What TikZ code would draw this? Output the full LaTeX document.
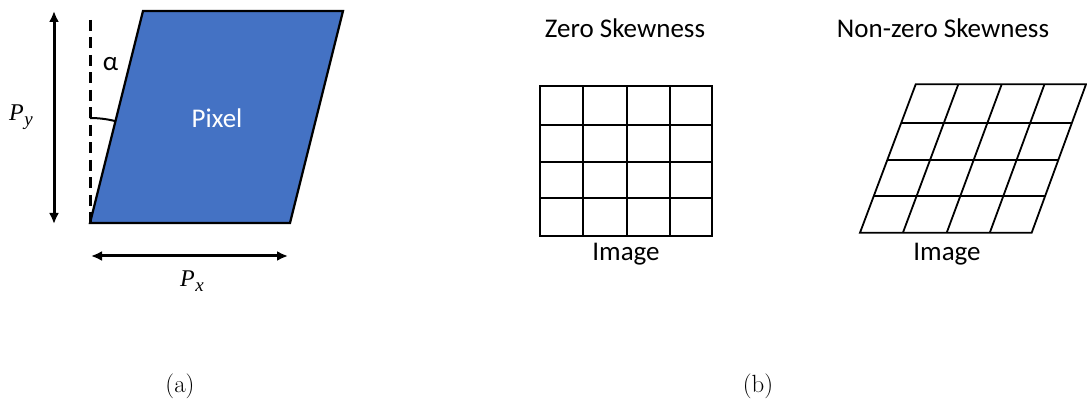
\documentclass[tikz,border=0pt]{standalone}
\usepackage{fontspec}
\newfontfamily\calfont{Carlito}
\newfontfamily\mathtext{Liberation Serif}
\usetikzlibrary{arrows.meta,calc}
\definecolor{pixblue}{HTML}{4472C4}
\newcommand{\dimsym}[1]{{\mathtext\itshape\fontsize{24}{26}\selectfont P\kern0.5pt\raisebox{-5pt}{\fontsize{19}{20}\selectfont #1}}}
\begin{document}
\begin{tikzpicture}[x=1pt,y=-1pt,
  dimarrow/.style={line width=3pt,{Latex[length=11pt,width=10pt]}-{Latex[length=11pt,width=10pt]}},
  lbl/.style={inner sep=0pt,anchor=base,font=\calfont\fontsize{27}{30}\selectfont},
  mathlbl/.style={inner sep=0pt,anchor=base west},
  caplbl/.style={inner sep=0pt,anchor=base,font=\fontsize{24.88}{28}\selectfont},
  gridline/.style={line width=1.8pt},
  guide/.style={line width=3pt,dash pattern=on 11pt off 6.5pt}]
\useasboundingbox (0,0) rectangle (1087,403);

% ---- (a) pixel ----
\coordinate (bl) at (90,223);
\coordinate (tl) at (143,11);
\coordinate (tr) at (343,11);
\coordinate (br) at (290,223);
\draw[fill=pixblue,line width=2.2pt] (bl) -- (tl) -- (tr) -- (br) -- cycle;
\node[lbl,text=white] (pixel) at (217,127.3) {Pixel};

\coordinate (dtop) at (90,20);
\draw[guide] (dtop) -- (bl);
\coordinate (arcS) at (90,118);
\draw[line width=2pt] (arcS) arc[start angle=-90,end angle=-75.96,radius=105];
\node[lbl] (alpha) at (110.5,71) {α};

\coordinate (pyt) at (54,11);
\coordinate (pyb) at (54,224);
\draw[dimarrow] (pyt) -- (pyb);
\coordinate (pyanchor) at (9,121);
\node[mathlbl] (py) at (pyanchor) {\dimsym{y}};

\coordinate (pxl) at (91,256);
\coordinate (pxr) at (288,256);
\draw[dimarrow] (pxl) -- (pxr);
\coordinate (pxanchor) at (180,287);
\node[mathlbl] (px) at (pxanchor) {\dimsym{x}};

% ---- (b) zero skewness ----
\node[lbl] (zs) at (625,37.3) {Zero Skewness};
\draw[gridline] (540,86) rectangle (712,236);
\foreach \yy in {125,162,198} \draw[gridline] (540,\yy) -- (712,\yy);
\foreach \xx in {583,627,670} \draw[gridline] (\xx,86) -- (\xx,236);
\node[lbl] (imga) at (626,261) {Image};

% ---- (b) non-zero skewness ----
\node[lbl] (nzs) at (943,37.3) {Non-zero Skewness};
\coordinate (TL) at (915.7,84.3);
\coordinate (TR) at (1086,84.3);
\coordinate (BL) at (860,232.7);
\coordinate (BR) at (1031.7,232.7);
\draw[gridline] (TL) -- (TR) -- (BR) -- (BL) -- cycle;
\foreach \t in {0.263,0.510,0.753}
  \draw[gridline] ($(TL)!\t!(BL)$) -- ($(TR)!\t!(BR)$);
\foreach \s in {0.25,0.505,0.756}
  \draw[gridline] ($(TL)!\s!(TR)$) -- ($(BL)!\s!(BR)$);
\node[lbl] (imgb) at (947,261) {Image};

% ---- captions ----
\node[caplbl] (capa) at (180,392) {(a)};
\node[caplbl] (capb) at (758,392) {(b)};
\end{tikzpicture}
\end{document}
